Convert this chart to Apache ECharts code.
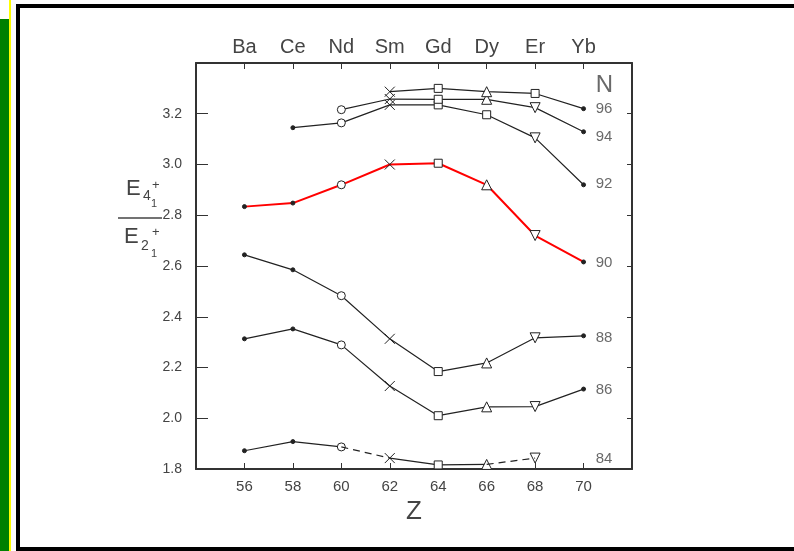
<!DOCTYPE html>
<html>
<head>
<meta charset="utf-8">
<script src="https://cdn.jsdelivr.net/npm/echarts@6/dist/echarts.min.js"></script>
<style>
html,body{margin:0;padding:0;background:#fff;}
#chart{width:794px;height:551px;}
</style>
</head>
<body>
<div id="chart"></div>
<script>
// 数据
var zVals = [56, 58, 60, 62, 64, 66, 68, 70];
var elements = ['Ba', 'Ce', 'Nd', 'Sm', 'Gd', 'Dy', 'Er', 'Yb'];
var yTicks = [1.8, 2.0, 2.2, 2.4, 2.6, 2.8, 3.0, 3.2];
// 每个Z的符号
var zSymbols = ['dot', 'dot', 'circle', 'cross', 'rect', 'triangle', 'down', 'dot'];

var n84 = [1.872, 1.908, 1.887, 1.843, 1.816, 1.818, 1.843, null];
var n86 = [2.313, 2.352, 2.289, 2.127, 2.010, 2.045, 2.046, 2.115];
var n88 = [2.644, 2.585, 2.483, 2.313, 2.184, 2.218, 2.317, 2.325];
var n90 = [2.834, 2.848, 2.920, 3.000, 3.005, 2.920, 2.720, 2.616];
var n92 = [null, 3.145, 3.164, 3.235, 3.235, 3.196, 3.105, 2.920];
var n94 = [null, null, 3.216, 3.258, 3.257, 3.257, 3.224, 3.129];
var n96 = [null, null, null, 3.287, 3.300, 3.287, 3.280, 3.220];

// 右侧N标签
var nNames = ['N', '96', '94', '92', '90', '88', '86', '84'];
var nLabelY = [3.31, 3.220, 3.109, 2.924, 2.612, 2.317, 2.112, 1.839];
var nLabelZ = 70.5;

// 84 虚线段 (以结束Z表示)
var n84Dashed = [62, 68];

var symbolMap = {
	dot: {symbol: 'circle', symbolSize: 4, fill: '#222'},
	circle: {symbol: 'circle', symbolSize: 8, fill: '#fff'},
	cross: {symbol: 'path://M0,0L10,10M10,0L0,10', symbolSize: 10, fill: '#fff'},
	rect: {symbol: 'rect', symbolSize: 8, fill: '#fff'},
	triangle: {symbol: 'triangle', symbolSize: 10, fill: '#fff'},
	down: {symbol: 'triangle', symbolSize: 10, fill: '#fff', rotate: 180}
};

var makePoints = function(vals, overrides){
	var out = [];
	for (var i = 0; i < zVals.length; i++) {
		if (vals[i] == null) { out.push([zVals[i], '-']); continue; }
		var key = (overrides && overrides[zVals[i]]) || zSymbols[i];
		var s = symbolMap[key];
		out.push({
			value: [zVals[i], vals[i]],
			symbol: s.symbol,
			symbolSize: s.symbolSize,
			symbolRotate: s.rotate || 0,
			itemStyle: {color: s.fill, borderColor: '#222', borderWidth: 1}
		});
	}
	return out;
};

var lineSeries = function(name, vals, color, width, overrides){
	return {
		name: name,
		type: 'line',
		data: makePoints(vals, overrides),
		connectNulls: false,
		showAllSymbol: true,
		lineStyle: {color: color, width: width},
		z: color == '#222' ? 2 : 3,
		animation: false
	};
};

// 84: 实线 + 虚线
var n84Solid = n84.map(function(v, i){
	return (n84Dashed.indexOf(zVals[i]) >= 0) ? null : v;
});
var n84Series = lineSeries('84', n84, '#222', 1.2);
var solidPts = [];
makePoints(n84).forEach(function(p, i){
	if (n84Dashed.indexOf(zVals[i]) >= 0) solidPts.push([zVals[i] - 0.01, '-']);
	solidPts.push(p);
});
n84Series.data = solidPts;
var dashPts = [];
for (var i = 1; i < zVals.length; i++) {
	if (n84Dashed.indexOf(zVals[i]) >= 0) {
		dashPts.push([zVals[i - 1], n84[i - 1]]);
		dashPts.push([zVals[i], n84[i]]);
		dashPts.push([zVals[i] + 0.01, '-']);
	}
}

var labelData = nNames.map(function(n, i){
	return {
		value: [nLabelZ, nLabelY[i]],
		name: n,
		label: {fontSize: n == 'N' ? 24 : 15}
	};
});

var axisColor = '#333';
var textColor = '#444';
var fontFamily = '"Liberation Sans", Arial, sans-serif';

var option = {
	backgroundColor: '#fff',
	animation: false,
	grid: {left: 196, right: 162, top: 63, bottom: 82},
	xAxis: [
		{
			type: 'value', position: 'bottom', min: 54, max: 72, interval: 2,
			name: 'Z', nameLocation: 'middle', nameGap: 27,
			nameTextStyle: {fontSize: 26, color: textColor, fontFamily: fontFamily},
			axisLine: {lineStyle: {color: axisColor, width: 2}},
			axisTick: {inside: true, length: 6, lineStyle: {color: axisColor}},
			axisLabel: {
				color: textColor, fontSize: 15, fontFamily: fontFamily, margin: 10,
				formatter: function(v){ return zVals.indexOf(v) >= 0 ? String(v) : ''; }
			},
			splitLine: {show: false}
		},
		{
			type: 'value', position: 'top', min: 54, max: 72, interval: 2,
			axisLine: {lineStyle: {color: axisColor, width: 2}},
			axisTick: {inside: true, length: 6, lineStyle: {color: axisColor}},
			axisLabel: {
				color: textColor, fontSize: 20, fontFamily: fontFamily, margin: 6,
				formatter: function(v){
					var i = zVals.indexOf(v);
					return i >= 0 ? elements[i] : '';
				}
			},
			splitLine: {show: false}
		}
	],
	yAxis: [
		{
			type: 'value', position: 'left', min: 1.8, max: 3.4, interval: 0.2,
			axisLine: {show: true, lineStyle: {color: axisColor, width: 2}},
			axisTick: {inside: true, length: 12, lineStyle: {color: axisColor}},
			axisLabel: {
				color: textColor, fontSize: 14, fontFamily: fontFamily, margin: 14,
				formatter: function(v){
					var t = Math.round(v * 10) / 10;
					return yTicks.indexOf(t) >= 0 ? t.toFixed(1) : '';
				}
			},
			splitLine: {show: false}
		},
		{
			type: 'value', position: 'right', min: 1.8, max: 3.4, interval: 0.2,
			axisLine: {show: true, lineStyle: {color: axisColor, width: 2}},
			axisTick: {inside: true, length: 5, lineStyle: {color: axisColor}},
			axisLabel: {show: false},
			splitLine: {show: false}
		}
	],
	series: [
		n84Series,
		{
			name: '84d', type: 'line', data: dashPts, symbol: 'none', connectNulls: false,
			lineStyle: {color: '#222', width: 1.2, type: [7, 5]}
		},
		lineSeries('86', n86, '#222', 1.2),
		lineSeries('88', n88, '#222', 1.2),
		lineSeries('90', n90, '#f00', 2),
		lineSeries('92', n92, '#222', 1.2, {66: 'rect'}),
		lineSeries('94', n94, '#222', 1.2),
		lineSeries('96', n96, '#222', 1.2, {68: 'rect'}),
		{
			name: 'labels', type: 'scatter', data: labelData, symbolSize: 0,
			label: {
				show: true, position: 'right', distance: 0, color: textColor,
				fontFamily: fontFamily,
				formatter: function(p){ return p.name; }
			}
		}
	],
	graphic: [
		{type: 'rect', shape: {x: 0, y: 19, width: 9, height: 532}, style: {fill: '#008000'}},
		{type: 'rect', shape: {x: 9, y: 0, width: 2, height: 551}, style: {fill: '#ffff00'}},
		{type: 'rect', shape: {x: 18, y: 6, width: 800, height: 543}, style: {fill: 'none', stroke: '#000', lineWidth: 4}},
		{type: 'text', x: 126, y: 178, style: {text: 'E', font: '22px ' + fontFamily, fill: textColor, verticalAlign: 'top'}},
		{type: 'text', x: 143, y: 189, style: {text: '4', font: '14px ' + fontFamily, fill: textColor, verticalAlign: 'top'}},
		{type: 'text', x: 151, y: 198, style: {text: '1', font: '11px ' + fontFamily, fill: textColor, verticalAlign: 'top'}},
		{type: 'text', x: 152, y: 179, style: {text: '+', font: '13px ' + fontFamily, fill: textColor, verticalAlign: 'top'}},
		{type: 'line', shape: {x1: 118, y1: 218, x2: 162, y2: 218}, style: {stroke: textColor, lineWidth: 1.5}},
		{type: 'text', x: 124, y: 226, style: {text: 'E', font: '22px ' + fontFamily, fill: textColor, verticalAlign: 'top'}},
		{type: 'text', x: 141, y: 239, style: {text: '2', font: '14px ' + fontFamily, fill: textColor, verticalAlign: 'top'}},
		{type: 'text', x: 151, y: 248, style: {text: '1', font: '11px ' + fontFamily, fill: textColor, verticalAlign: 'top'}},
		{type: 'text', x: 152, y: 226, style: {text: '+', font: '13px ' + fontFamily, fill: textColor, verticalAlign: 'top'}}
	]
};

var myChart = echarts.init(document.getElementById('chart'), null, {renderer: 'canvas'});
myChart.setOption(option);
</script>
</body>
</html>
